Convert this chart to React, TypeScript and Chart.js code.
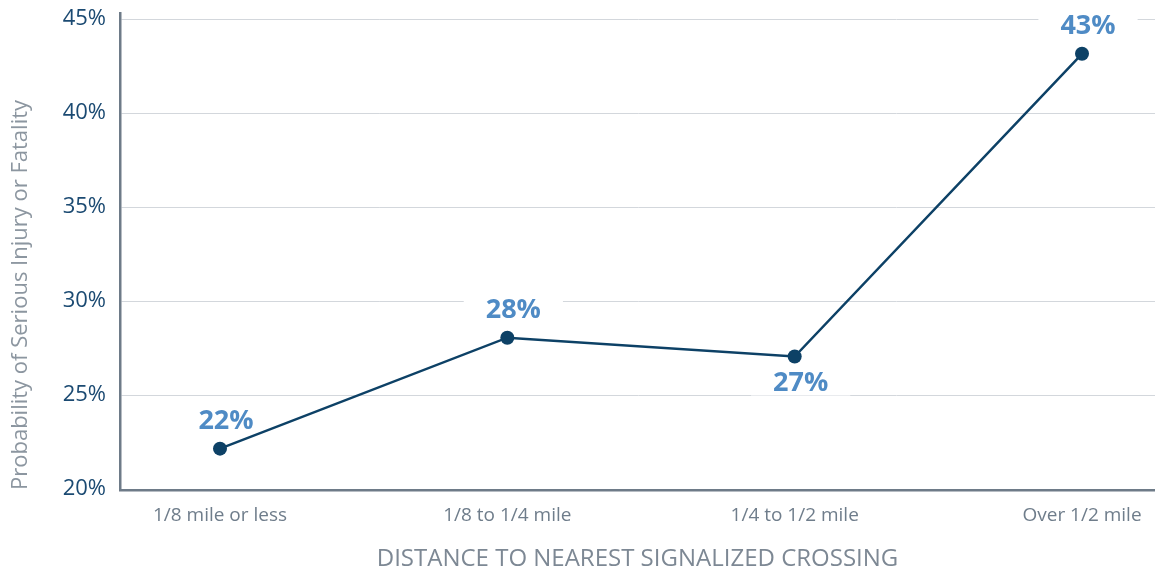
import React, { useEffect, useRef } from "react";
import { Chart, registerables } from "chart.js";

Chart.register(...registerables);

// Distance bands and probability of a serious injury or fatality (%)
const categories = ["1/8 mile or less", "1/8 to 1/4 mile", "1/4 to 1/2 mile", "Over 1/2 mile"];
const probability = [22.2, 28.1, 27.1, 43.2];
const labelBelow = [false, false, true, false];
const yTicks = [20, 25, 30, 35, 40, 45];

const yTitle = "Probability of Serious Injury or Fatality";
const xTitle = "DISTANCE TO NEAREST SIGNALIZED CROSSING";

const FONT = "'Open Sans', 'DejaVu Sans', sans-serif";
const LABEL_FONT = `bold 27px ${FONT}`;

function labelPositions(chart: any) {
  const meta = chart.getDatasetMeta(0);
  return meta.data.map((pt: any, i: number) => ({
    text: `${Math.round(probability[i])}%`,
    x: pt.x + 6,
    y: labelBelow[i] ? pt.y + 27 : pt.y - 27,
  }));
}

// White plates under the value labels (painted over the grid, under the line)
// and the labels themselves on top of everything.
const valueLabels = {
  id: "valueLabels",
  beforeDatasetsDraw(chart: any) {
    const { ctx } = chart;
    ctx.save();
    ctx.font = LABEL_FONT;
    ctx.fillStyle = "#ffffff";
    labelPositions(chart).forEach((l: any) => {
      const w = ctx.measureText(l.text).width;
      ctx.fillRect(l.x - w / 2 - 22, l.y - 12, w + 44, 24);
    });
    ctx.restore();
  },
  afterDatasetsDraw(chart: any) {
    const { ctx } = chart;
    ctx.save();
    ctx.font = LABEL_FONT;
    ctx.textAlign = "center";
    ctx.textBaseline = "middle";
    ctx.fillStyle = "#4f8bc5";
    labelPositions(chart).forEach((l: any) => {
      ctx.fillText(l.text, l.x, l.y);
    });
    ctx.restore();
  },
};

export default function App() {
  const canvasRef = useRef<HTMLCanvasElement | null>(null);

  useEffect(() => {
    if (!canvasRef.current) return;
    const chart = new Chart(canvasRef.current, {
      type: "line",
      data: {
        datasets: [
          {
            data: probability.map((v, i) => ({ x: i, y: v })),
            borderColor: "#0d4166",
            backgroundColor: "#0d4166",
            borderWidth: 2.5,
            pointRadius: 7,
            pointHoverRadius: 7,
            pointBackgroundColor: "#0d4166",
            pointBorderWidth: 0,
            tension: 0,
            clip: false,
          },
        ],
      },
      options: {
        responsive: false,
        animation: false,
        layout: { autoPadding: false, padding: { top: 13, left: 0, right: 0, bottom: 0 } },
        plugins: {
          legend: { display: false },
          tooltip: { enabled: false },
        },
        scales: {
          x: {
            type: "linear",
            min: -0.348,
            max: 3.254,
            afterBuildTicks: (scale: any) => {
              scale.ticks = categories.map((_, i) => ({ value: i }));
            },
            afterFit: (scale: any) => {
              scale.height = 84;
              scale.paddingLeft = 0;
              scale.paddingRight = 0;
            },
            grid: { display: false, drawTicks: false },
            border: { display: true, color: "#6e7b88", width: 2.5 },
            ticks: {
              padding: 14,
              color: "#6f7d8b",
              font: { family: FONT, size: 19 },
              maxRotation: 0,
              callback: (v: any) => categories[v as number] ?? "",
            },
            title: {
              display: true,
              text: xTitle,
              color: "#7d8894",
              font: { family: FONT, size: 24 },
              padding: { top: 0, bottom: 0 },
            },
          },
          y: {
            min: 20,
            max: 45.37,
            afterBuildTicks: (scale: any) => {
              scale.ticks = yTicks.map((v) => ({ value: v }));
            },
            afterFit: (scale: any) => {
              scale.width = 120;
              scale.paddingTop = 0;
              scale.paddingBottom = 0;
            },
            grid: { color: "#d3d7dc", lineWidth: 1, drawTicks: false },
            border: { display: true, color: "#6e7b88", width: 2.5 },
            ticks: {
              padding: 14,
              labelOffset: -1,
              color: "#1b4a72",
              font: { family: FONT, size: 22 },
              callback: (v: any) => `${v}%`,
            },
            title: {
              display: true,
              text: yTitle,
              align: "start",
              color: "#8c96a0",
              font: { family: FONT, size: 22 },
              padding: { top: 8, bottom: 0 },
            },
          },
        },
      },
      plugins: [valueLabels],
    });
    return () => chart.destroy();
  }, []);

  return (
    <div style={{ position: "fixed", left: 0, top: 0, width: 1155, height: 574, background: "#ffffff" }}>
      <canvas ref={canvasRef} width={1155} height={574} />
    </div>
  );
}
